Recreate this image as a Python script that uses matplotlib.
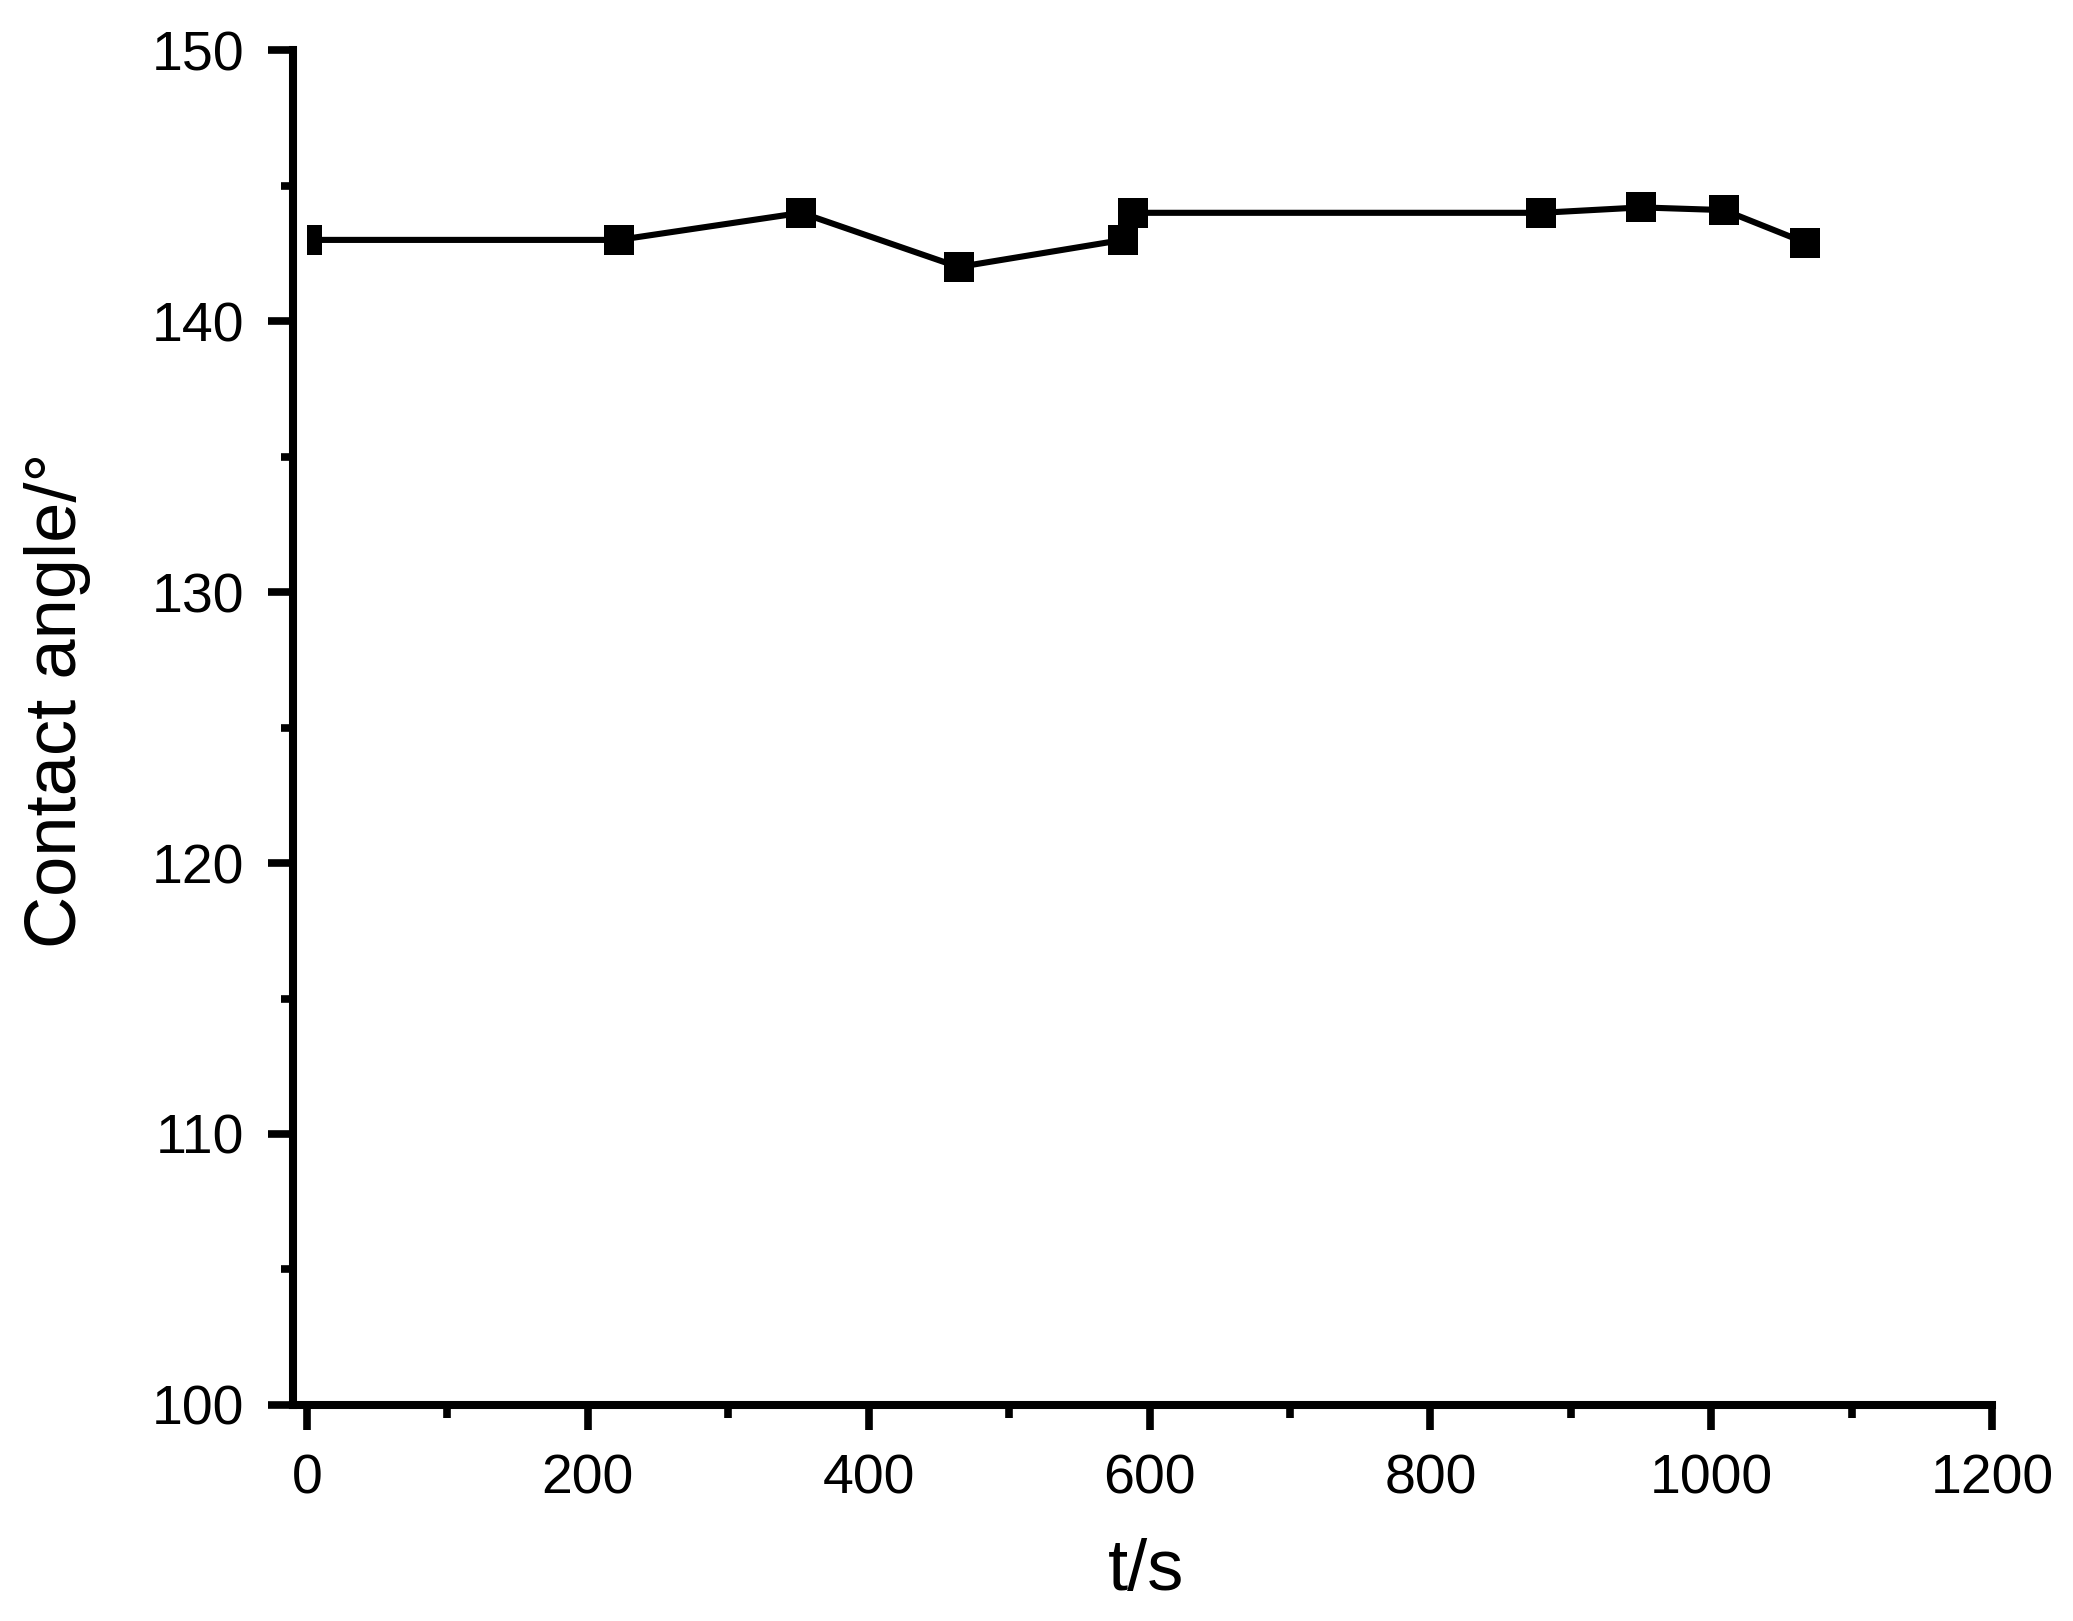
import matplotlib
matplotlib.use("Agg")
import matplotlib.pyplot as plt
from matplotlib.patches import Rectangle
from matplotlib.ticker import MultipleLocator

t_s = [0, 222, 352, 464, 581, 588, 879, 950, 1009, 1067]
contact_angle = [143.0, 143.0, 144.0, 142.0, 143.0, 144.0, 144.0, 144.2, 144.1, 142.9]
xticks = [0, 200, 400, 600, 800, 1000, 1200]
yticks = [100, 110, 120, 130, 140, 150]

plt.rcParams['font.family'] = ['Liberation Sans', 'DejaVu Sans']

fig = plt.figure(figsize=(20.73, 16.21), dpi=100)
ax = fig.add_axes([0.1413, 0.1333, 0.8197, 0.8357])

line, = ax.plot(t_s, contact_angle, color='black', lw=4.4, marker='s',
                markersize=21, markerfacecolor='black', markeredgecolor='black',
                markeredgewidth=0, clip_on=True)
clip = Rectangle((0, 100), 1200, 50, transform=ax.transData)
line.set_clip_path(clip)

ax.set_xlim(-10, 1200)
ax.set_ylim(100, 150)
ax.set_xticks(xticks)
ax.set_yticks(yticks)
ax.xaxis.set_minor_locator(MultipleLocator(100))
ax.yaxis.set_minor_locator(MultipleLocator(5))

for s in ['top', 'right']:
    ax.spines[s].set_visible(False)
for s in ['left', 'bottom']:
    ax.spines[s].set_linewidth(5.8)

ax.tick_params(axis='both', which='major', direction='out', length=18, width=5.5,
               labelsize=40, pad=17)
ax.tick_params(axis='both', which='minor', direction='out', length=9, width=5.5)

ax.set_xlabel('t/s', fontsize=52)
ax.set_ylabel('Contact angle/°', fontsize=52)
ax.xaxis.set_label_coords(0.502, -0.098)
ax.yaxis.set_label_coords(-0.119, 0.52)

fig.savefig('out.png', dpi=100)
